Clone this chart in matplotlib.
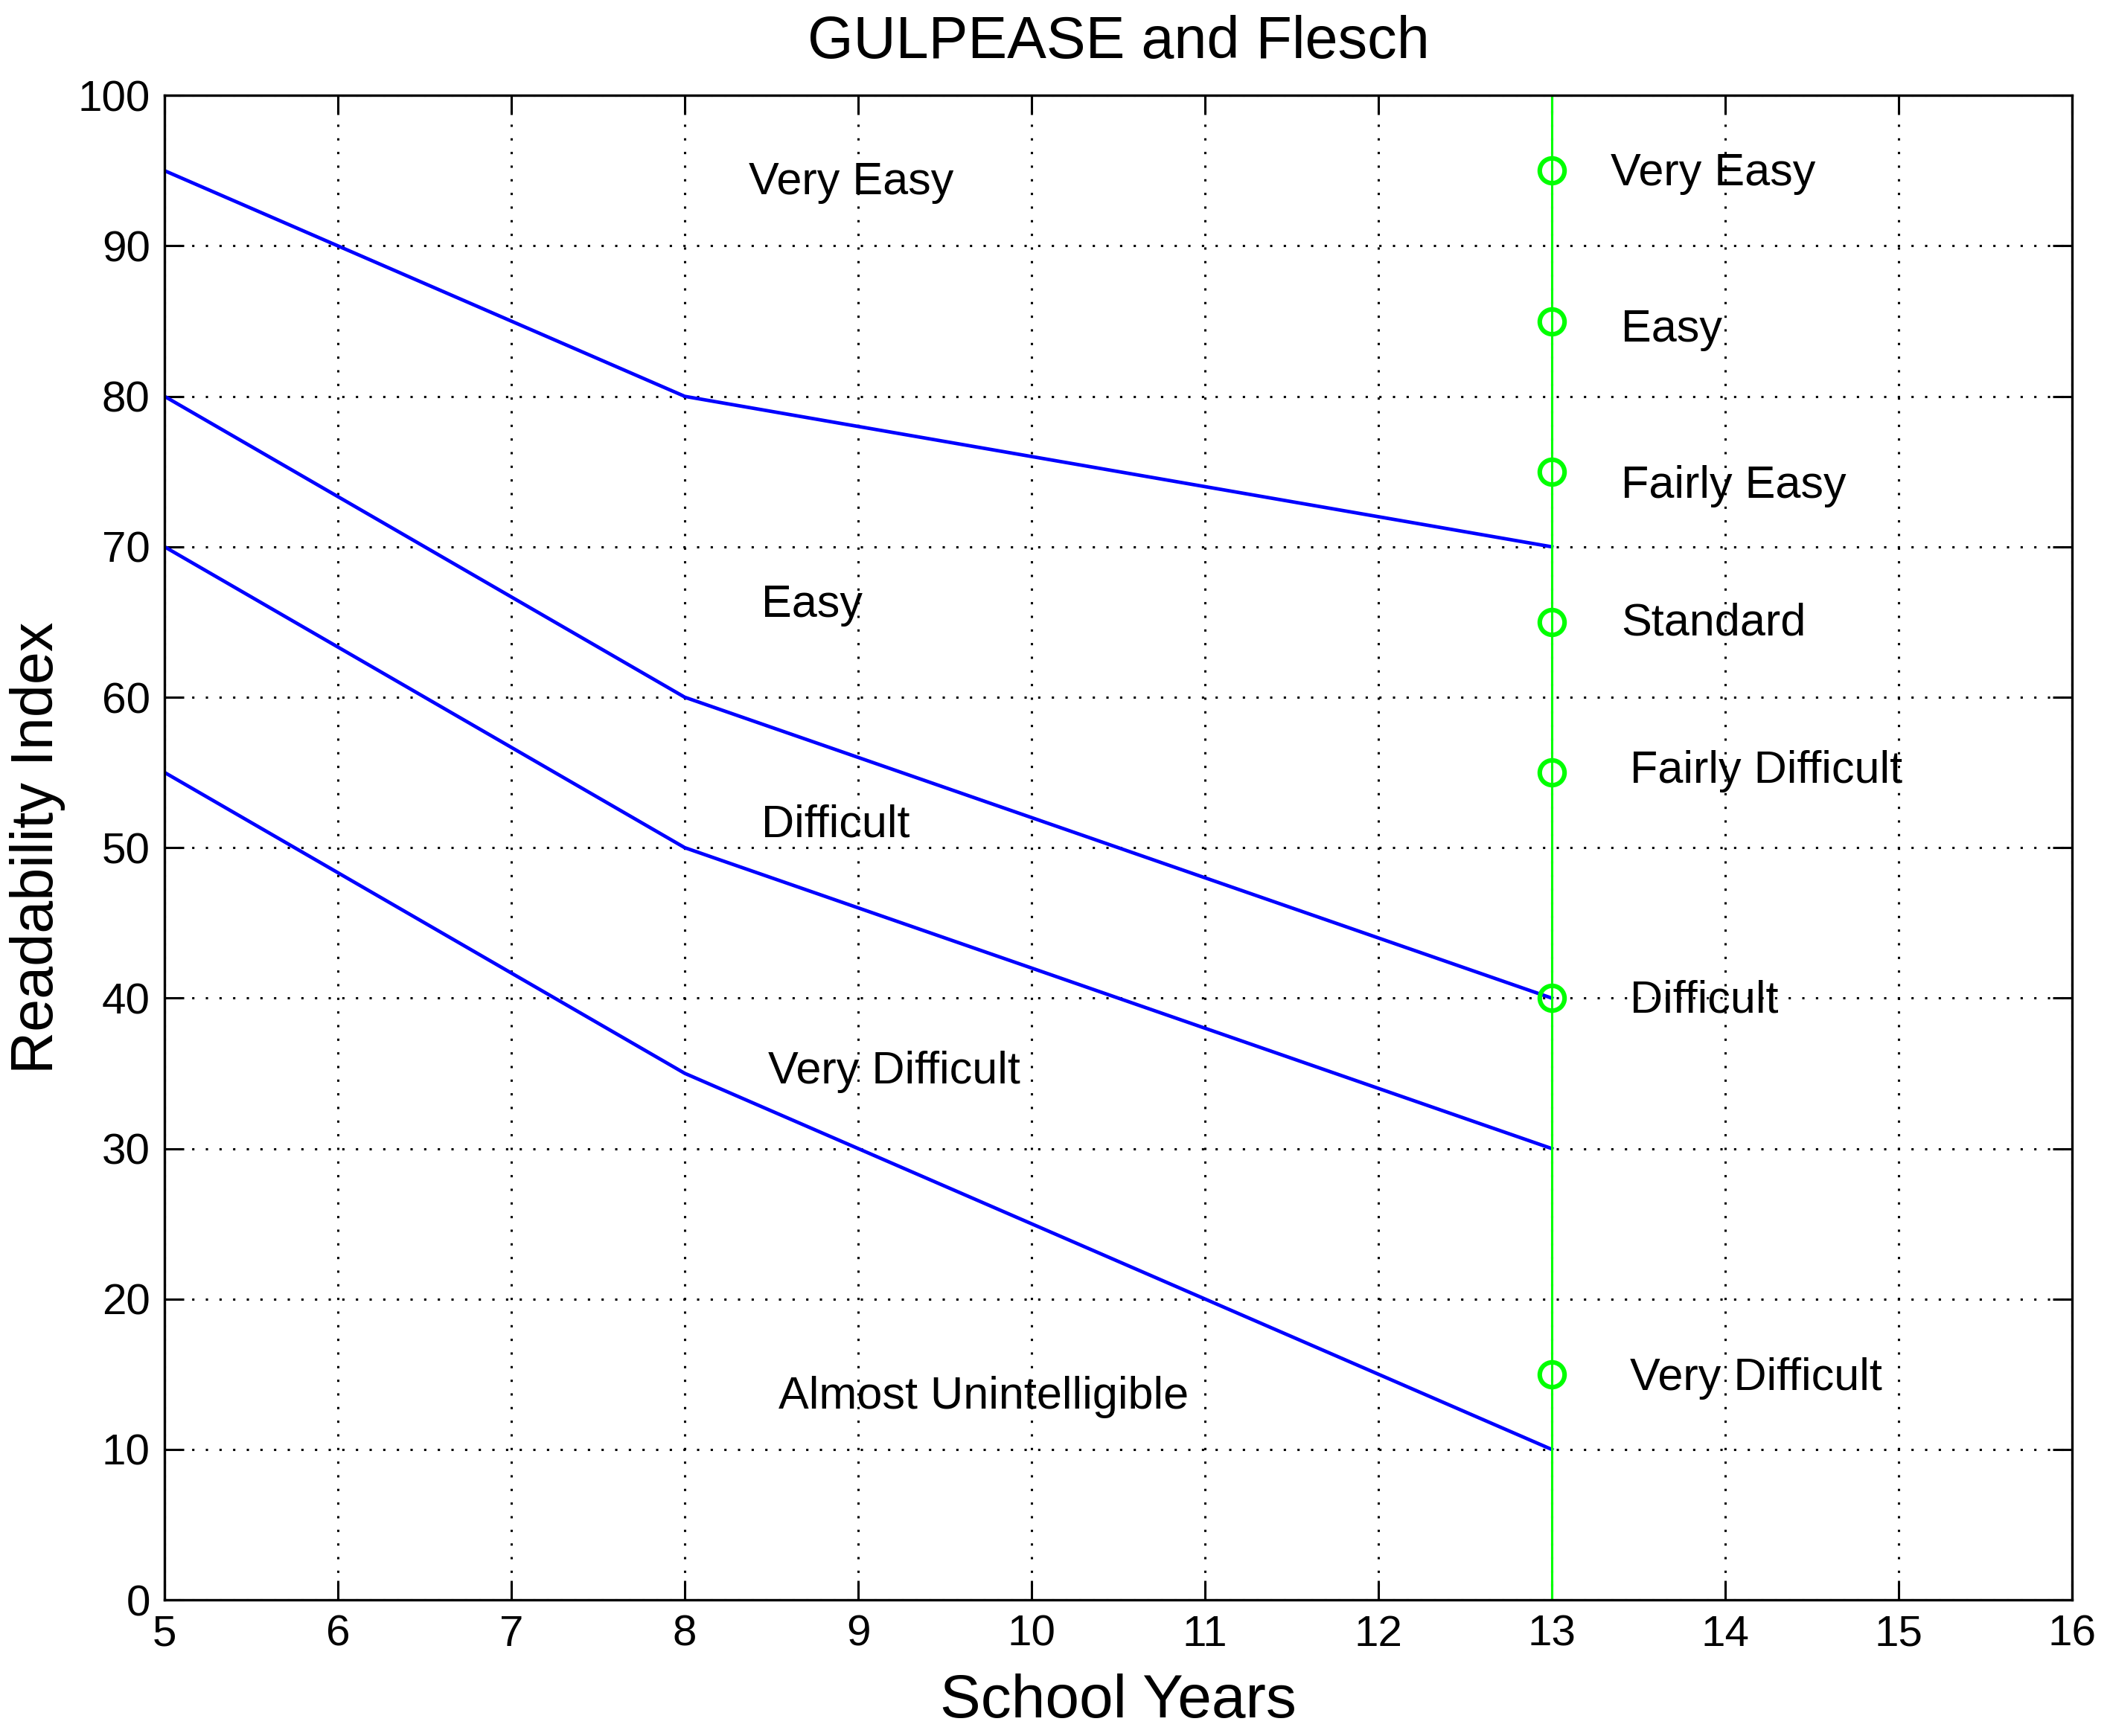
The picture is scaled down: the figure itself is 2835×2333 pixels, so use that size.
import matplotlib.pyplot as plt

plt.rcParams['font.family'] = ['Liberation Sans', 'DejaVu Sans']

# GULPEASE boundaries vs school years
years = [5, 8, 13]
very_easy_line = [95, 80, 70]
easy_line = [80, 60, 40]
difficult_line = [70, 50, 30]
very_difficult_line = [55, 35, 10]

gulpease_labels = ["Very Easy", "Easy", "Difficult", "Very Difficult", "Almost Unintelligible"]
gulpease_x = [8.37, 8.44, 8.44, 8.48, 8.54]
gulpease_y = [94.2, 66.1, 51.5, 35.1, 13.5]

# Flesch scale at 13 years
flesch_year = 13
flesch_values = [95, 85, 75, 65, 55, 40, 15]
flesch_labels = ["Very Easy", "Easy", "Fairly Easy", "Standard", "Fairly Difficult", "Difficult", "Very Difficult"]
flesch_text_x = [13.34, 13.40, 13.40, 13.40, 13.45, 13.45, 13.45]
flesch_text_y = [94.8, 84.4, 74.0, 64.9, 55.1, 39.8, 14.7]

fig = plt.figure(figsize=(28.35, 23.33), dpi=100)
ax = fig.add_axes([0.078, 0.0784, 0.904, 0.8666])

for line in [very_easy_line, easy_line, difficult_line, very_difficult_line]:
    ax.plot(years, line, color="#0000ff", linewidth=3.4)

ax.axvline(flesch_year, color="#00ff00", linewidth=2.2)
ax.plot([flesch_year] * len(flesch_values), flesch_values, linestyle="none",
        marker="o", markersize=24, markerfacecolor="none",
        markeredgecolor="#00ff00", markeredgewidth=4.4)

for label, x, y in zip(gulpease_labels, gulpease_x, gulpease_y):
    ax.text(x, y, label, fontsize=44, va="center", ha="left")
for label, x, y in zip(flesch_labels, flesch_text_x, flesch_text_y):
    ax.text(x, y, label, fontsize=44, va="center", ha="left")

ax.set_xlim(5, 16)
ax.set_ylim(0, 100)
ax.set_xticks(range(5, 17))
ax.set_yticks(range(0, 101, 10))
ax.grid(True, color="black", linestyle=(0, (1, 5)), linewidth=2.2)
ax.tick_params(direction="in", length=19, width=2.2, labelsize=42,
               top=True, right=True, pad=14)
for s in ax.spines.values():
    s.set_linewidth(2.4)

ax.set_title("GULPEASE and Flesch", fontsize=57, pad=36)
ax.set_xlabel("School Years", fontsize=59, labelpad=18)
ax.set_ylabel("Readability Index", fontsize=57, labelpad=12)

fig.savefig("out.png", dpi=100)
